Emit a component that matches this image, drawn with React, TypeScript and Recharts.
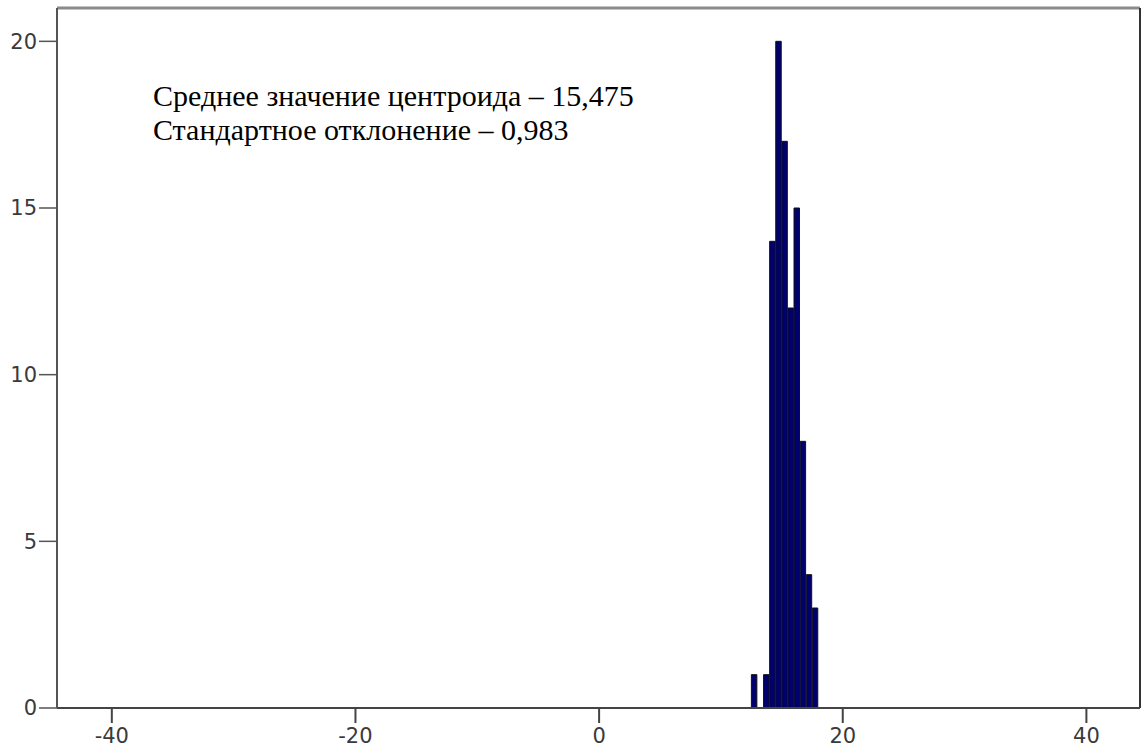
import { ComposedChart, Bar, XAxis, YAxis, ReferenceLine } from 'recharts';

// bin centres (bin width 0.5) and counts
const binCenters = [12.75, 13.25, 13.75, 14.25, 14.75, 15.25, 15.75, 16.25, 16.75, 17.25, 17.75];
const counts = [1, 0, 1, 14, 20, 17, 12, 15, 8, 4, 3];
const xTicks = [-40, -20, 0, 20, 40];
const yTicks = [0, 5, 10, 15, 20];
const noteLines = ['Среднее значение центроида – 15,475', 'Стандартное отклонение – 0,983'];

const data = binCenters.map((x, i) => ({ x, count: counts[i] }));

const tickStyle = { fontFamily: 'DejaVu Sans', fontSize: 21, fill: '#3a3a3a' };

export default function App() {
  return (
    <div style={{ position: 'absolute', left: 0, top: 0, width: 1141, height: 751, background: '#fff' }}>
      <ComposedChart
        width={1141}
        height={751}
        data={data}
        margin={{ top: 8, right: 1, left: 0, bottom: 0 }}
        barCategoryGap={0}
        barGap={0}
      >
        <XAxis
          type="number"
          dataKey="x"
          domain={[-44.5, 44.4]}
          ticks={xTicks}
          allowDataOverflow
          height={43}
          tickSize={15}
          tickMargin={5}
          tick={tickStyle}
          axisLine={{ stroke: '#444', strokeWidth: 2 }}
          tickLine={{ stroke: '#444', strokeWidth: 2 }}
        />
        <YAxis
          type="number"
          domain={[0, 21]}
          ticks={yTicks}
          allowDataOverflow
          width={57}
          tickSize={18}
          tickMargin={2}
          tick={tickStyle}
          axisLine={{ stroke: '#555', strokeWidth: 2 }}
          tickLine={{ stroke: '#555', strokeWidth: 1.5 }}
        />
        <ReferenceLine y={21} stroke="#8a8a8a" strokeWidth={3} />
        <ReferenceLine x={44.4} stroke="#333" strokeWidth={2} />
        <Bar dataKey="count" barSize={6.1} fill="#00006e" stroke="#111" strokeWidth={1} isAnimationActive={false} />
      </ComposedChart>
      <div
        style={{
          position: 'absolute',
          left: 153,
          top: 79,
          fontFamily: '"Liberation Serif", serif',
          fontSize: 30,
          lineHeight: '34px',
          color: '#000',
          whiteSpace: 'nowrap',
        }}
      >
        {noteLines.map((t) => (
          <div key={t}>{t}</div>
        ))}
      </div>
    </div>
  );
}
